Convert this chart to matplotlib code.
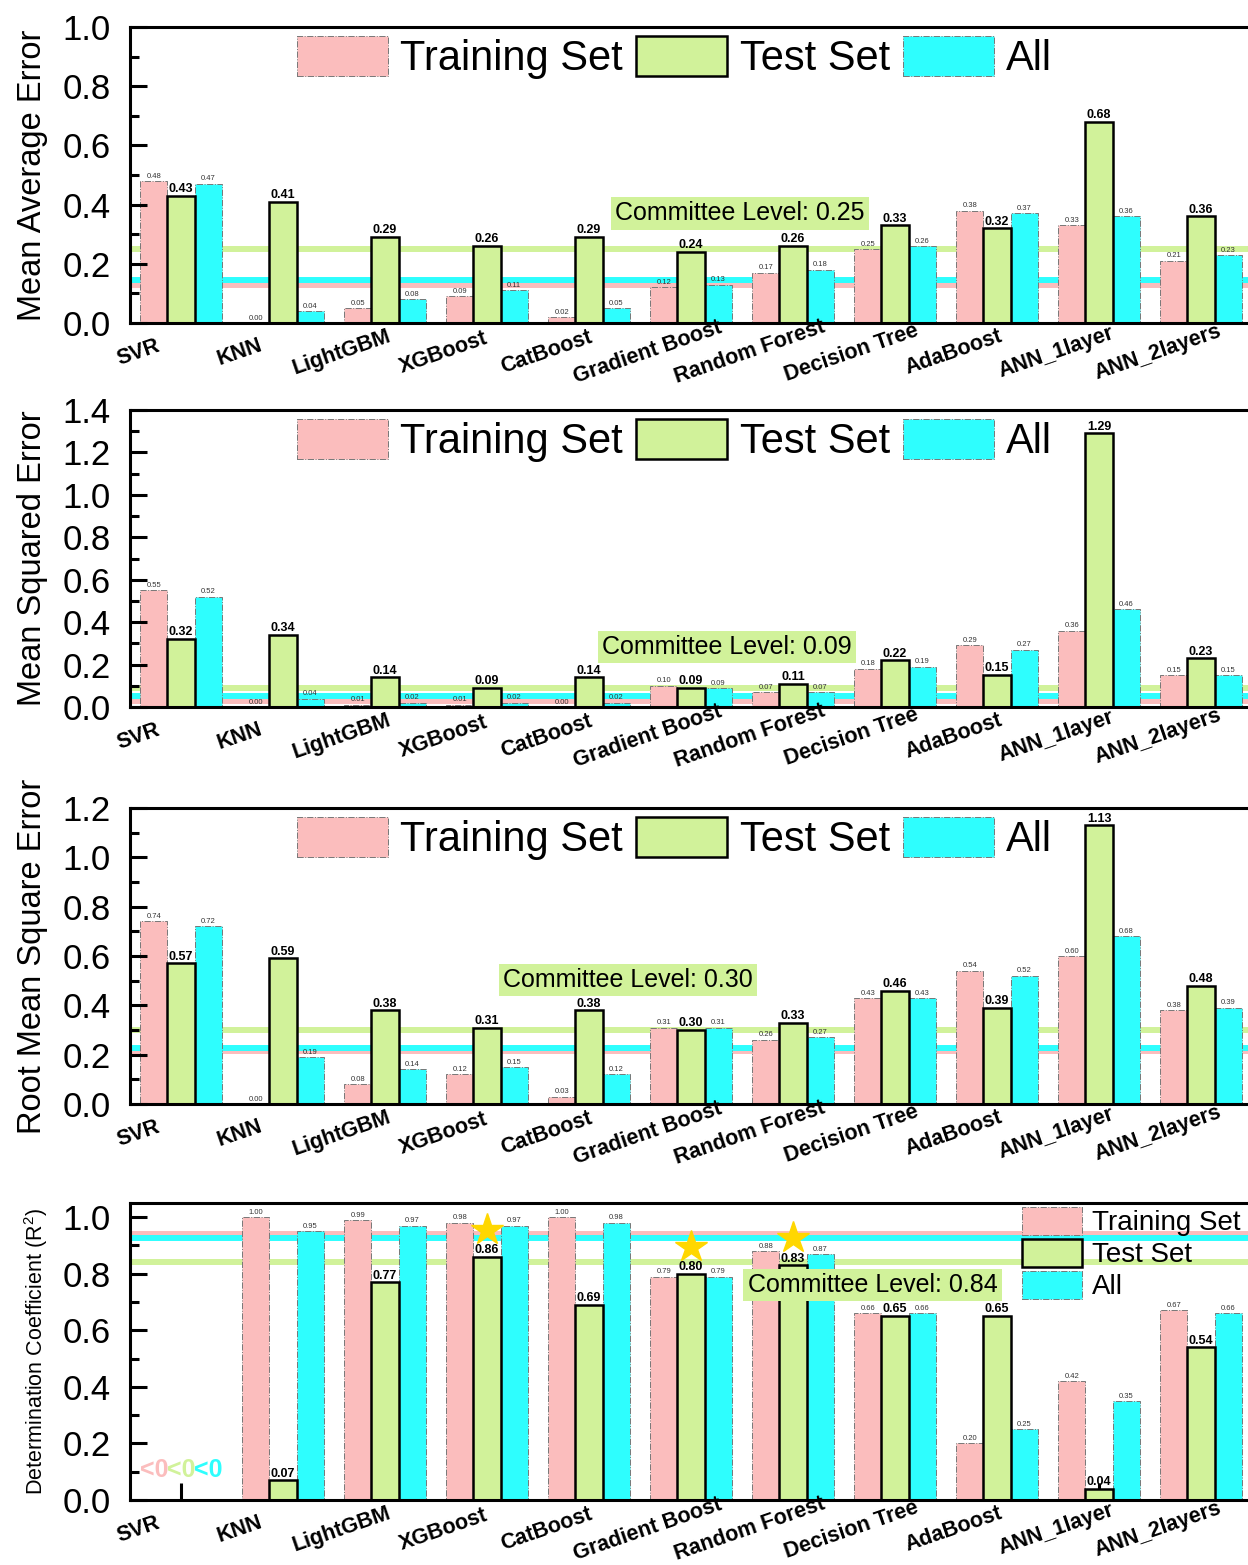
import numpy as np
import matplotlib.pyplot as plt
from matplotlib.ticker import MultipleLocator
from matplotlib.transforms import ScaledTranslation

plt.rcParams['font.family'] = ['Liberation Sans', 'DejaVu Sans']
plt.rcParams['mathtext.fontset'] = 'custom'
plt.rcParams['mathtext.rm'] = 'Liberation Sans'

models = ['SVR', 'KNN', 'LightGBM', 'XGBoost', 'CatBoost', 'Gradient Boost',
          'Random Forest', 'Decision Tree', 'AdaBoost', 'ANN_1layer', 'ANN_2layers']
set_names = ['Training Set', 'Test Set', 'All']

mae_train = [0.48, 0.00, 0.05, 0.09, 0.02, 0.12, 0.17, 0.25, 0.38, 0.33, 0.21]
mae_test = [0.43, 0.41, 0.29, 0.26, 0.29, 0.24, 0.26, 0.33, 0.32, 0.68, 0.36]
mae_all = [0.47, 0.04, 0.08, 0.11, 0.05, 0.13, 0.18, 0.26, 0.37, 0.36, 0.23]
mae_committee = [0.13, 0.25, 0.145]

mse_train = [0.55, 0.00, 0.01, 0.01, 0.00, 0.10, 0.07, 0.18, 0.29, 0.36, 0.15]
mse_test = [0.32, 0.34, 0.14, 0.09, 0.14, 0.09, 0.11, 0.22, 0.15, 1.29, 0.23]
mse_all = [0.52, 0.04, 0.02, 0.02, 0.02, 0.09, 0.07, 0.19, 0.27, 0.46, 0.15]
mse_committee = [0.03, 0.09, 0.052]

rmse_train = [0.74, 0.00, 0.08, 0.12, 0.03, 0.31, 0.26, 0.43, 0.54, 0.60, 0.38]
rmse_test = [0.57, 0.59, 0.38, 0.31, 0.38, 0.30, 0.33, 0.46, 0.39, 1.13, 0.48]
rmse_all = [0.72, 0.19, 0.14, 0.15, 0.12, 0.31, 0.27, 0.43, 0.52, 0.68, 0.39]
rmse_committee = [0.215, 0.30, 0.227]

# SVR R2 is negative for all sets -> not drawn
r2_train = [np.nan, 1.00, 0.99, 0.98, 1.00, 0.79, 0.88, 0.66, 0.20, 0.42, 0.67]
r2_test = [np.nan, 0.07, 0.77, 0.86, 0.69, 0.80, 0.83, 0.65, 0.65, 0.04, 0.54]
r2_all = [np.nan, 0.95, 0.97, 0.97, 0.98, 0.79, 0.87, 0.66, 0.25, 0.35, 0.66]
r2_committee = [0.94, 0.84, 0.926]
r2_best = ['XGBoost', 'Gradient Boost', 'Random Forest']

pink = '#FBBDBD'
green = '#D1F29A'
cyan = '#2EFEFE'
colors = [pink, green, cyan]

W, H = 1248, 1565
fig = plt.figure(figsize=(W / 100, H / 100), dpi=100)

# (ylabel, label size, data, committee, ymax, top px, bottom px, committee text pos)
panels = [
    ('Mean Average Error', 23.5, (mae_train, mae_test, mae_all), mae_committee, 1.0, 27, 323, (5.48, 0.37)),
    ('Mean Squared Error', 23.5, (mse_train, mse_test, mse_all), mse_committee, 1.4, 410, 707, (5.35, 0.283)),
    ('Root Mean Square Error', 23.5, (rmse_train, rmse_test, rmse_all), rmse_committee, 1.2, 808, 1104, (4.38, 0.503)),
    ('Determination Coefficient (R$^{2}$)', 15.5, (r2_train, r2_test, r2_all), r2_committee, 1.05, 1203, 1500, (6.78, 0.76)),
]

x = np.arange(len(models))
w = 0.265
left_px, right_px = 130, 1252

for k, (ylabel, ylsize, data, committee, ymax, top, bot, cpos) in enumerate(panels):
    ax = fig.add_axes([left_px / W, 1 - bot / H, (right_px - left_px) / W, (bot - top) / H])
    last = k == len(panels) - 1

    # committee levels behind the bars
    for c in (0, 2, 1):
        ax.axhline(committee[c], color=colors[c], lw=4.3, zorder=0.5)

    for s, vals in enumerate(data):
        vals = np.array(vals, dtype=float)
        labels = ['' if np.isnan(v) else f'{v:.2f}' for v in vals]
        if s == 1:
            bc = ax.bar(x + (s - 1) * w, vals, w, color=green, edgecolor='black',
                        linewidth=1.8, label=set_names[s], zorder=2)
            ax.bar_label(bc, labels=labels, padding=0.5, fontsize=9, fontweight='bold')
        else:
            bc = ax.bar(x + (s - 1) * w, vals, w, color=colors[s], edgecolor='#777777',
                        linewidth=0.7, linestyle='-.', label=set_names[s], zorder=1.5)
            ax.bar_label(bc, labels=labels, padding=1, fontsize=5.5, color='#333333')
        for i, v in enumerate(vals):
            if np.isnan(v):
                ax.text(x[i] + (s - 1) * w, 0.105, '<0', color=colors[s], fontsize=18,
                        fontweight='bold', ha='center', va='center')

    ax.text(cpos[0], cpos[1], f'Committee Level: {committee[1]:.2f}', fontsize=18,
            ha='center', va='center', zorder=6,
            bbox=dict(facecolor=green, edgecolor='none', pad=3))

    if last:
        test_vals = np.array(data[1])
        for name in r2_best:
            i = models.index(name)
            ax.plot(x[i], test_vals[i] + 0.095, marker='*', ms=24, color='#FFD700',
                    ls='none', zorder=7)

    ax.set_xlim(-0.5, 10.5)
    ax.set_ylim(0, ymax)
    ax.set_xticks(x)
    ax.tick_params(axis='x', direction='in', length=12, width=2.2, labelbottom=False)
    ax.yaxis.set_major_locator(MultipleLocator(0.2))
    ax.yaxis.set_minor_locator(MultipleLocator(0.1))
    ax.yaxis.set_major_formatter('{x:.1f}')
    ax.tick_params(axis='y', which='major', direction='in', length=12, width=2.2,
                   labelsize=25, pad=14)
    ax.tick_params(axis='y', which='minor', direction='in', length=6.5, width=2.2)
    for side in ('left', 'top', 'bottom'):
        ax.spines[side].set_linewidth(2.2)
    ax.spines['right'].set_visible(False)

    # slanted model names, shifted left of the group centre
    offset = ScaledTranslation(-0.43, -0.295, fig.dpi_scale_trans)
    for i, name in enumerate(models):
        ax.text(x[i], 0, name, transform=ax.get_xaxis_transform() + offset,
                rotation=19, rotation_mode='anchor', ha='center', va='center',
                fontsize=15.5, fontweight='bold')

    ax.set_ylabel(ylabel, fontsize=ylsize)
    ax.yaxis.set_label_coords(-0.073 if not last else -0.071, 0.5)

    if not last:
        ax.legend(ncol=3, loc='upper left',
                  bbox_to_anchor=((297 - left_px) / (right_px - left_px), 1 - 9 / (bot - top)),
                  frameon=False, fontsize=30, handlelength=2.18, handleheight=1.1,
                  handletextpad=0.3, columnspacing=0.32, borderpad=0, borderaxespad=0)
    else:
        ax.legend(ncol=1, loc='upper left',
                  bbox_to_anchor=((1022 - left_px) / (right_px - left_px), 1 - 4 / (bot - top)),
                  frameon=False, fontsize=20, handlelength=2.16, handleheight=1.15,
                  handletextpad=0.35, labelspacing=0.1, borderpad=0, borderaxespad=0)

fig.savefig('out.png', dpi=100)
